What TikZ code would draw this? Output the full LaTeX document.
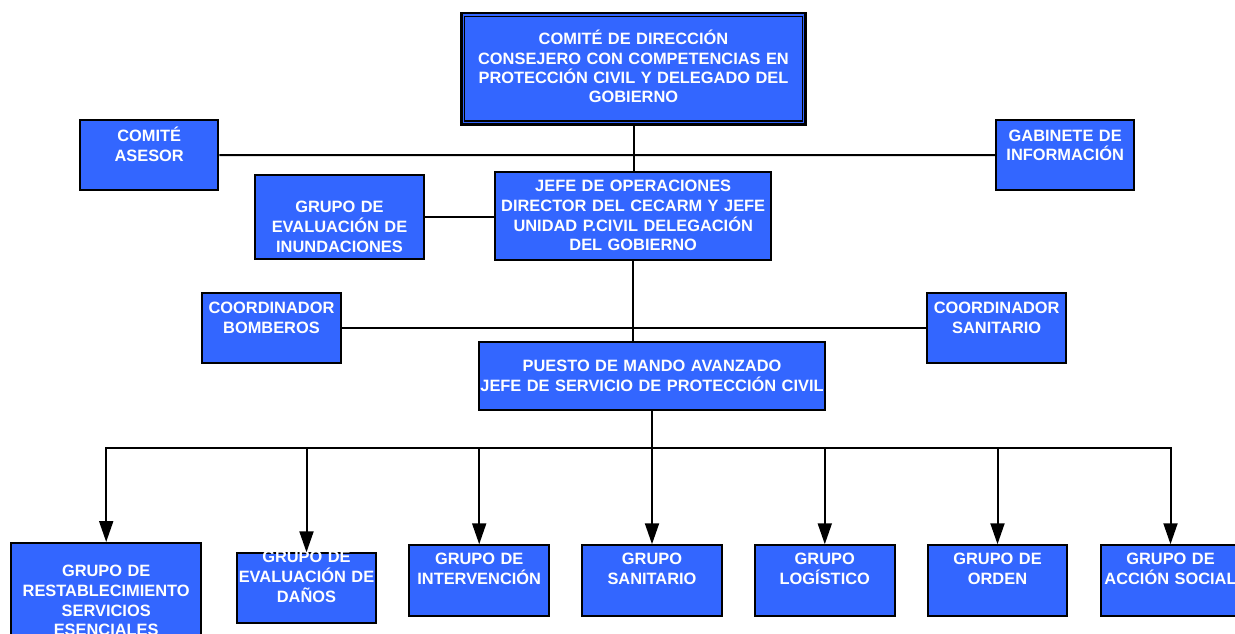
\documentclass[tikz,border=0pt]{standalone}
\usepackage{fontspec}
\setmainfont{Liberation Sans}
\usetikzlibrary{arrows.meta,calc}
\definecolor{boxblue}{HTML}{3366FF}
\begin{document}
\begin{tikzpicture}[x=1pt,y=-1pt,
  box/.style={draw=black, line width=2pt, fill=boxblue, inner sep=0pt},
  txt/.style={anchor=base, text=white, font=\bfseries\fontsize{16.4}{19.8}\selectfont,
              align=center, text width=360pt, inner sep=0pt},
  conn/.style={draw=black, line width=2pt},
  arr/.style={conn, -{Triangle[width=14pt,length=21pt]}}]
\useasboundingbox[fill=white] (0,0) rectangle (1235,634);

% top box (double border)
\node[box, line width=2.6pt, minimum width=344.5pt, minimum height=111pt,
      label={[txt,yshift=-33pt,font=\bfseries\fontsize{16.4}{19.2}\selectfont]north:{COMITÉ DE DIRECCIÓN\\CONSEJERO CON COMPETENCIAS EN\\PROTECCIÓN CIVIL Y DELEGADO DEL\\GOBIERNO}}]
      (top) at (633.5,68.7) {};
\draw[line width=1.3pt] ($(top.north west)+(4.5,4.5)$) rectangle ($(top.south east)+(-4.5,-4.5)$);

\node[box, minimum width=138.5pt, minimum height=69.5pt,
      label={[txt,yshift=-22pt]north:{COMITÉ\\ASESOR}}] (asesor) at (149.2,155.2) {};
\node[box, minimum width=138.5pt, minimum height=70pt,
      label={[txt,yshift=-22pt]north:{GABINETE DE\\INFORMACIÓN}}] (gabinete) at (1065.2,155) {};
\node[box, minimum width=169pt, minimum height=84.8pt,
      label={[txt,yshift=-39pt]north:{GRUPO DE\\EVALUACIÓN DE\\INUNDACIONES}}] (inund) at (339.5,216.9) {};
\node[box, minimum width=276.5pt, minimum height=87.5pt,
      label={[txt,yshift=-20pt]north:{JEFE DE OPERACIONES\\DIRECTOR DEL CECARM Y JEFE\\UNIDAD P.CIVIL DELEGACIÓN\\DEL GOBIERNO}}] (jefe) at (633.2,216.2) {};
\node[box, minimum width=139pt, minimum height=69.7pt,
      label={[txt,yshift=-21pt]north:{COORDINADOR\\BOMBEROS}}] (bomberos) at (271.5,328.2) {};
\node[box, minimum width=139pt, minimum height=69.7pt,
      label={[txt,yshift=-21pt]north:{COORDINADOR\\SANITARIO}}] (coordsan) at (996.7,328.2) {};
\node[box, minimum width=346pt, minimum height=68.5pt,
      label={[txt,yshift=-31pt]north:{PUESTO DE MANDO AVANZADO\\JEFE DE SERVICIO DE PROTECCIÓN CIVIL}}] (puesto) at (652,376.2) {};

% bottom row
\node[box, minimum width=190.5pt, minimum height=110pt,
      label={[txt,yshift=-34.5pt]north:{GRUPO DE\\RESTABLECIMIENTO\\SERVICIOS\\ESENCIALES}}] (restab) at (106.2,598) {};
\node[box, minimum width=139.3pt, minimum height=70pt,
      label={[txt,yshift=-10.5pt]north:{GRUPO DE\\EVALUACIÓN DE\\DAÑOS}}] (danos) at (306.5,588.3) {};
\node[box, minimum width=139.5pt, minimum height=70.5pt,
      label={[txt,yshift=-20pt]north:{GRUPO DE\\INTERVENCIÓN}}] (interv) at (479.2,580.5) {};
\node[box, minimum width=139.5pt, minimum height=70.5pt,
      label={[txt,yshift=-20pt]north:{GRUPO\\SANITARIO}}] (sanit) at (652,580.5) {};
\node[box, minimum width=139.5pt, minimum height=70.5pt,
      label={[txt,yshift=-20pt]north:{GRUPO\\LOGÍSTICO}}] (logis) at (824.8,580.5) {};
\node[box, minimum width=139.5pt, minimum height=70.5pt,
      label={[txt,yshift=-20pt]north:{GRUPO DE\\ORDEN}}] (orden) at (997.5,580.5) {};
\node[box, minimum width=139.5pt, minimum height=70.5pt,
      label={[txt,yshift=-20pt]north:{GRUPO DE\\ACCIÓN SOCIAL}}] (accion) at (1170.5,580.5) {};

% connectors
\draw[conn] (asesor.east) -- (gabinete.west);
\draw[conn] (top.south) -- (top.south |- jefe.north);
\draw[conn] (inund.east) -- (inund.east -| jefe.west);
\draw[conn] (bomberos.east) -- (coordsan.west);
\draw[conn] (jefe.south) -- (jefe.south |- puesto.north);

\coordinate (bus) at (652,448);
\draw[arr] (bus) -| (restab.north);
\draw[arr] (bus) -| (accion.north);
\draw[arr] (danos.north |- bus) -- (danos.north);
\draw[arr] (interv.north |- bus) -- (interv.north);
\draw[arr] (puesto.south) -- (sanit.north);
\draw[arr] (logis.north |- bus) -- (logis.north);
\draw[arr] (orden.north |- bus) -- (orden.north);
\end{tikzpicture}
\end{document}
